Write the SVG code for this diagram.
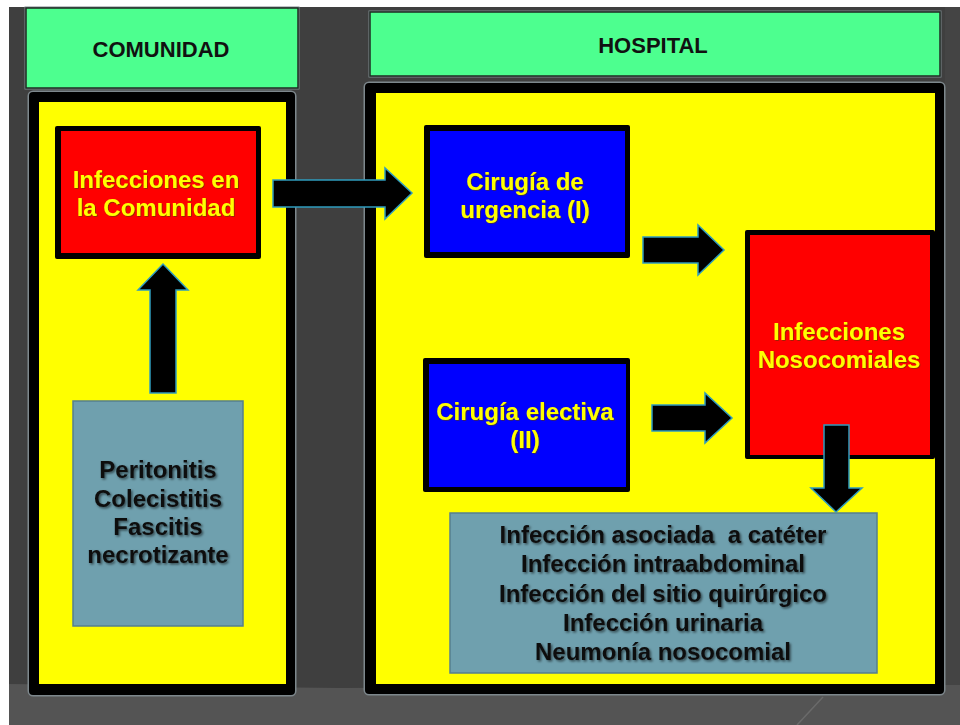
<svg xmlns="http://www.w3.org/2000/svg" width="960" height="725" viewBox="0 0 960 725">
<defs>
<style>
.hdr{fill:#4dff8f;stroke:#1e2a22;stroke-width:1.5}
.glow{fill:none;stroke:#7d878c;stroke-width:3}
.frame{fill:#000}
.yel{fill:#ffff00}
.red{fill:#ff0000}
.blue{fill:#0000ff}
.gray{fill:#6fa0ae;stroke:#557f8e;stroke-width:1.5}
.arrow{fill:#000;stroke:#2f9cbd;stroke-width:1.5;stroke-linejoin:miter}
text{font-family:"Liberation Sans",Arial,sans-serif;font-weight:bold;text-anchor:middle}
.th{font-size:22px;fill:#111}
.ty{font-size:24px;fill:#ffff00;filter:url(#ysh)}
.tb{font-size:24px;fill:#111;filter:url(#sh)}
</style>
<filter id="sh" x="-10%" y="-30%" width="120%" height="160%">
<feDropShadow dx="1.5" dy="1.5" stdDeviation="1" flood-color="#000" flood-opacity="0.55"/>
</filter>
<filter id="ysh" x="-10%" y="-30%" width="120%" height="160%">
<feDropShadow dx="0.8" dy="0.8" stdDeviation="0.6" flood-color="#5a3a00" flood-opacity="0.7"/>
</filter>
</defs>
<rect x="0" y="0" width="960" height="725" fill="#ffffff"/>
<rect x="9" y="7" width="951" height="718" fill="#3f3f3f"/>
<polygon points="9,684 340,688 960,684 960,725 9,725" fill="#545454"/>
<line x1="823" y1="697" x2="797" y2="725" stroke="#6a6a6a" stroke-width="1.5"/>
<rect x="945" y="7" width="15" height="678" fill="#444"/>

<g id="header-comunidad">
<rect x="26" y="8" width="272" height="80" class="glow"/>
<rect x="26" y="8" width="272" height="80" class="hdr"/>
<text x="161" y="57" class="th">COMUNIDAD</text>
</g>
<g id="header-hospital">
<rect x="370" y="12" width="570" height="64" class="glow"/>
<rect x="370" y="12" width="570" height="64" class="hdr"/>
<text x="653" y="53" class="th">HOSPITAL</text>
</g>

<g id="frame-comunidad">
<rect x="29" y="92" width="266" height="603" rx="4" class="glow"/>
<rect x="29" y="92" width="266" height="603" rx="4" class="frame"/>
<rect x="39" y="102" width="247" height="582" class="yel"/>
</g>
<g id="frame-hospital">
<rect x="365" y="83" width="579" height="611" rx="4" class="glow"/>
<rect x="365" y="83" width="579" height="611" rx="4" class="frame"/>
<rect x="376" y="93" width="559" height="591" class="yel"/>
</g>

<g id="infecciones-comunidad">
<rect x="55" y="126" width="206" height="133" rx="2" class="frame"/>
<rect x="61" y="131" width="195" height="122" class="red"/>
<text x="156" y="188" class="ty">Infecciones en</text>
<text x="156" y="216" class="ty">la Comunidad</text>
</g>

<g id="causas-comunidad">
<rect x="73" y="401" width="170" height="225" class="gray"/>
<text x="158" y="478" class="tb">Peritonitis</text>
<text x="158" y="507" class="tb">Colecistitis</text>
<text x="158" y="535" class="tb">Fascitis</text>
<text x="158" y="563" class="tb">necrotizante</text>
</g>

<g id="cirugia-urgencia">
<rect x="424" y="125" width="206" height="133" rx="2" class="frame"/>
<rect x="430" y="131" width="195" height="121" class="blue"/>
<text x="525" y="190" class="ty">Cirugía de</text>
<text x="525" y="218" class="ty">urgencia (I)</text>
</g>

<g id="cirugia-electiva">
<rect x="423" y="358" width="207" height="134" rx="2" class="frame"/>
<rect x="429" y="364" width="197" height="123" class="blue"/>
<text x="525" y="420" class="ty">Cirugía electiva</text>
<text x="525" y="448" class="ty">(II)</text>
</g>

<g id="infecciones-nosocomiales">
<rect x="745" y="230" width="190" height="229" rx="2" class="frame"/>
<rect x="750" y="235" width="180" height="220" class="red"/>
<text x="839" y="340" class="ty">Infecciones</text>
<text x="839" y="368" class="ty">Nosocomiales</text>
</g>

<g id="tipos-nosocomiales">
<rect x="450" y="513" width="427" height="160" class="gray"/>
<text x="663" y="543" class="tb" style="white-space:pre" xml:space="preserve">Infección asociada  a catéter</text>
<text x="663" y="572" class="tb">Infección intraabdominal</text>
<text x="663" y="602" class="tb">Infección del sitio quirúrgico</text>
<text x="663" y="631" class="tb">Infección urinaria</text>
<text x="663" y="660" class="tb">Neumonía nosocomial</text>
</g>

<g id="connectors">
<polygon class="arrow" points="273,180 385,180 385,168 412,193 385,219 385,207 273,207"/>
<polygon class="arrow" points="150,393 150,290 138,290 163,264 188,290 176,290 176,393"/>
<polygon class="arrow" points="643,237 698,237 698,225 724,250 698,275 698,263 643,263"/>
<polygon class="arrow" points="652,405 705,405 705,393 732,418 705,443 705,431 652,431"/>
<polygon class="arrow" points="824,425 849,425 849,488 862,488 836,512 811,488 824,488"/>
</g>
</svg>
